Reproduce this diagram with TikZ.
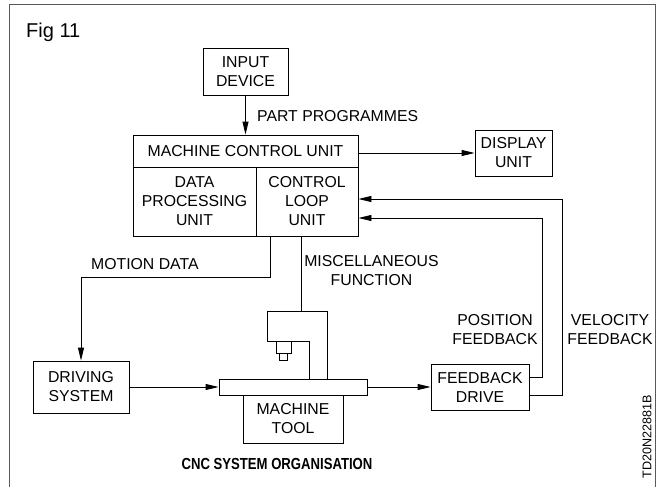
\documentclass[tikz,border=0pt]{standalone}
\usepackage{fontspec}
\setmainfont{Liberation Sans}
\newfontfamily\capfont[FakeStretch=0.82]{Liberation Sans}
\usetikzlibrary{arrows.meta}
\begin{document}
\begin{tikzpicture}[x=1pt,y=-1pt,
  every node/.style={font=\fontsize{15.8}{19}\selectfont,inner sep=0pt,align=center},
  unitbox/.style={draw,line width=0.9pt},
  wire/.style={line width=0.9pt},
  arr/.style={wire,-{Triangle[length=13pt,width=6pt]}},
  lbl/.style={text=black}]
\useasboundingbox (0,0) rectangle (660,487);
% outer frame
\draw[line width=0.9pt,black!65] (9,487) -- (9,4) -- (655,4) -- (655,487);
\node[anchor=west,font=\fontsize{20}{24}\selectfont] (fig) at (26,32) {Fig 11};

% blocks
\node[unitbox,minimum width=85,minimum height=47] (inp) at (245.5,71.5) {INPUT\\DEVICE};
\node[unitbox,minimum width=225,minimum height=32] (mcu) at (245.5,151) {MACHINE CONTROL UNIT};
\node[unitbox,minimum width=123,minimum height=69] (dpu) at (194.5,201.5) {DATA\\PROCESSING\\UNIT};
\node[unitbox,minimum width=102,minimum height=69] (clu) at (307,201.5) {CONTROL\\LOOP\\UNIT};
\node[unitbox,minimum width=77,minimum height=46] (disp) at (513.5,153) {DISPLAY\\UNIT};
\node[unitbox,minimum width=96,minimum height=52] (drv) at (81,387) {DRIVING\\SYSTEM};
\node[unitbox,minimum width=148,minimum height=16] (tbl) at (293,387) {};
\node[unitbox,minimum width=100,minimum height=48] (mt) at (293,419) {MACHINE\\TOOL};
\node[unitbox,minimum width=98,minimum height=46] (fd) at (480,387) {FEEDBACK\\DRIVE};

% machine column and spindle
\draw[wire] (267,341) -- (267,311) -- (327,311) -- (327,379);
\draw[wire] (309,379) -- (309,341) -- (267,341);
\draw[wire] (276,341) rectangle (291,353);
\draw[wire] (279,353) rectangle (287,360);
\coordinate (head) at (301,311);

% connectors
\draw[arr] (inp.south) -- (mcu.north);
\draw[arr] (disp.west -| mcu.east) -- (disp.west);
\draw[arr] (clu.south -| 270,0) -- (270,277) -| (drv.north);
\draw[wire] (clu.south -| 301,0) -- (head);
\draw[arr] (drv.east) -- (tbl.west);
\draw[arr] (tbl.east) -- (fd.west);
\draw[arr] (fd.east |- 0,377) -| (542,218) -- (clu.east |- 0,218);
\draw[arr] (fd.east |- 0,395) -| (562,199) -- (clu.east |- 0,199);

% labels
\node[anchor=west] (pp) at (257,116) {PART PROGRAMMES};
\node[anchor=west] (md) at (91,264) {MOTION DATA};
\node (mf) at (371.5,270.5) {MISCELLANEOUS\\FUNCTION};
\node (pf) at (495,330) {POSITION\\FEEDBACK};
\node (vf) at (610,330) {VELOCITY\\FEEDBACK};
\node[font=\capfont\bfseries\fontsize{16}{19}\selectfont] (cap) at (277,464) {CNC SYSTEM ORGANISATION};
\node[rotate=90,font=\fontsize{12.6}{15}\selectfont] (code) at (647,437) {TD20N22881B};
\end{tikzpicture}
\end{document}
